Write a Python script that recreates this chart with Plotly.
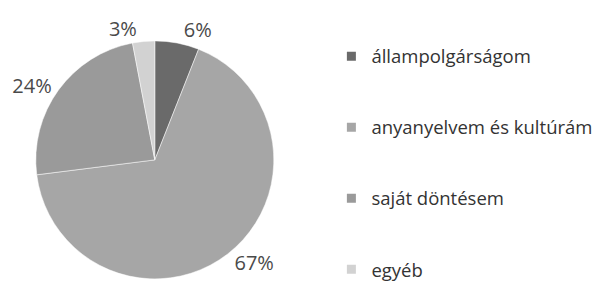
import plotly.graph_objects as go

categories = ["állampolgárságom", "anyanyelvem és kultúrám", "saját döntésem", "egyéb"]
values = [6, 67, 24, 3]
colors = ["#6a6a6a", "#a6a6a6", "#9a9a9a", "#d2d2d2"]

fig = go.Figure()
fig.add_trace(go.Pie(
    labels=categories, values=values, sort=False, direction="clockwise",
    rotation=0, marker=dict(colors=colors, line=dict(color="#ffffff", width=0.5)),
    textinfo="percent", texttemplate="%{percent:.0%}", textposition="outside",
    textfont=dict(family="Open Sans", size=20, color="#4a4a4a"),
    domain=dict(x=[0.0378, 0.4325], y=[0.0622, 0.900]),
    showlegend=False, hoverinfo="label+percent",
))
for i, (c, col) in enumerate(zip(categories, colors)):
    fig.add_trace(go.Scatter(
        x=[None], y=[None], mode="markers", name=c,
        marker=dict(symbol="square", size=9, color=col),
        legendgroup=str(i), showlegend=True,
    ))

fig.update_layout(
    width=608, height=289, margin=dict(l=0, r=0, t=0, b=0),
    paper_bgcolor="white", plot_bgcolor="white",
    xaxis=dict(visible=False), yaxis=dict(visible=False),
    legend=dict(x=0.528, y=0.91, xanchor="left", yanchor="top",
                font=dict(family="Open Sans", size=18.5, color="#333333"),
                tracegroupgap=44, itemwidth=30, bgcolor="rgba(0,0,0,0)"),
)
fig.write_html("out.html")
